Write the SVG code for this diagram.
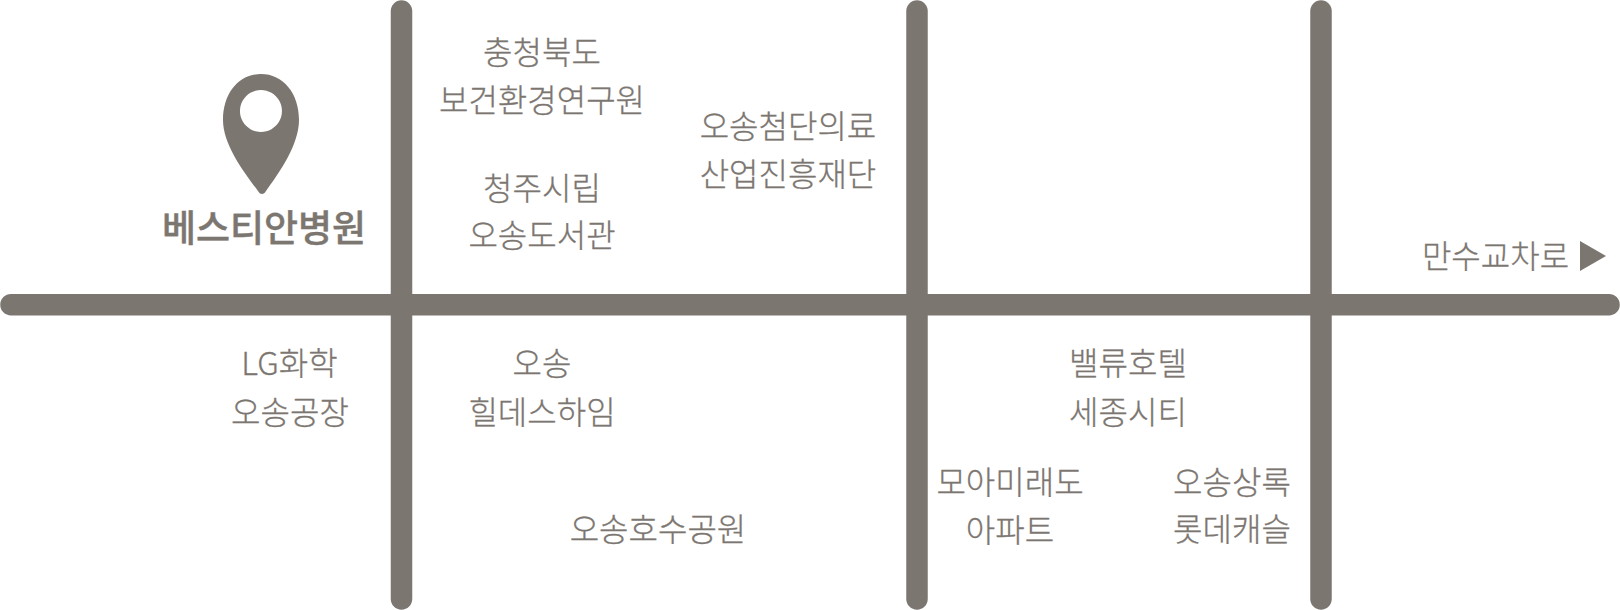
<svg xmlns="http://www.w3.org/2000/svg" width="1620" height="610" viewBox="0 0 1620 610">
<style>
.t{font-family:"Noto Sans CJK KR","Noto Sans",sans-serif;font-size:32px;font-weight:300;fill:#7c7671;stroke:#7c7671;stroke-width:.3;text-anchor:middle}
.b{font-family:"Noto Sans CJK KR","Noto Sans",sans-serif;font-size:37px;font-weight:500;fill:#7c7671;stroke:#7c7671;stroke-width:.4;text-anchor:middle}
.r{stroke:#7c7671;stroke-width:21.500;stroke-linecap:round;fill:none}
</style>
<g id="roads">
<line class="r" x1="11" y1="304.700" x2="1609" y2="304.700"/>
<line class="r" x1="401.500" y1="11" x2="401.500" y2="599"/>
<line class="r" x1="917" y1="11" x2="917" y2="599"/>
<line class="r" x1="1321" y1="11" x2="1321" y2="599"/>
</g>
<g id="hospital">
<path fill="#7c7671" fill-rule="evenodd" d="M261 74C239 74 223 93 223 120C223 145 244 172 258 191C260 195 264 195 266 191C279 173 299 145 299 120C299 93 283 74 261 74ZM261 90A21 21 0 1 1 260.900 90Z"/>
<text class="b" x="264" y="242">베스티안병원</text>
</g>
<g id="labels">
<text class="t" x="542" y="64">충청북도</text>
<text class="t" x="542" y="112">보건환경연구원</text>
<text class="t" x="542" y="200">청주시립</text>
<text class="t" x="542" y="247">오송도서관</text>
<text class="t" x="788" y="138">오송첨단의료</text>
<text class="t" x="788" y="186">산업진흥재단</text>
<text class="t" x="289.500" y="375">LG화학</text>
<text class="t" x="290" y="423.500">오송공장</text>
<text class="t" x="542" y="375">오송</text>
<text class="t" x="542" y="423.500">힐데스하임</text>
<text class="t" x="658" y="541">오송호수공원</text>
<text class="t" x="1128" y="375">밸류호텔</text>
<text class="t" x="1128" y="423.500">세종시티</text>
<text class="t" x="1010" y="494">모아미래도</text>
<text class="t" x="1010" y="542">아파트</text>
<text class="t" x="1232" y="494">오송상록</text>
<text class="t" x="1232" y="541">롯데캐슬</text>
<text class="t" x="1495.500" y="268">만수교차로</text>
<path fill="#7c7671" d="M1580 241L1606 256L1580 271Z"/>
</g>
</svg>
